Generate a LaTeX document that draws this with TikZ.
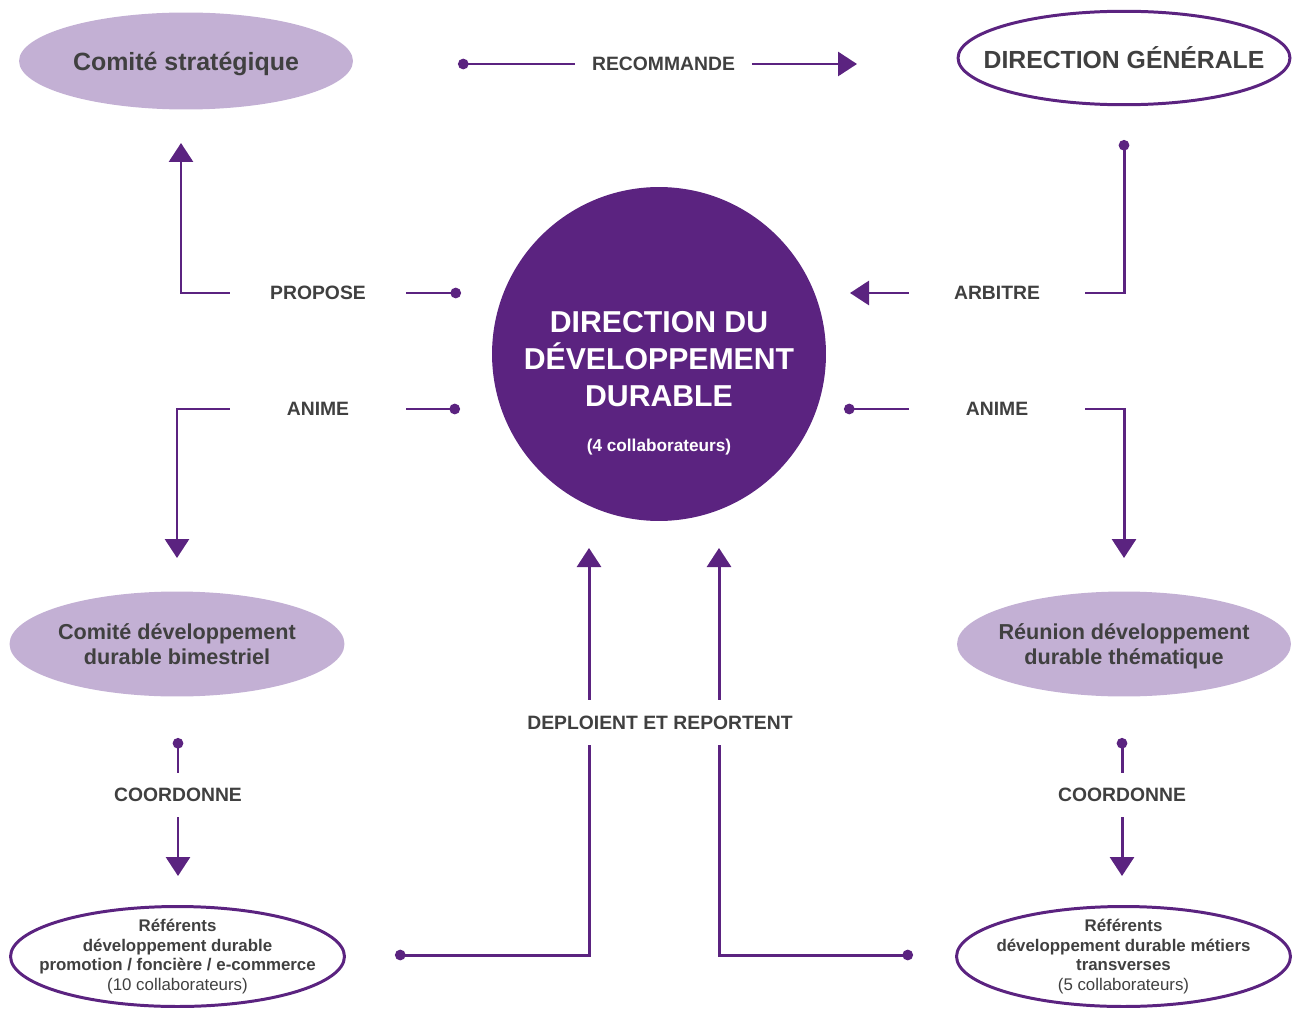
\documentclass[tikz,border=0pt]{standalone}
\usepackage{fontspec}
\setmainfont{Liberation Sans}
\usetikzlibrary{shapes.geometric}
\usetikzlibrary{arrows.meta}
\definecolor{ddpurple}{RGB}{91,35,128}
\definecolor{ddlilac}{RGB}{195,176,212}
\definecolor{ddgray}{RGB}{64,64,64}

\begin{document}
\begin{tikzpicture}[
    x=0.02cm, y=-0.02cm,
    filled/.style={ellipse,fill=ddlilac,text=ddgray,align=center,inner sep=-3cm,text depth=0pt,
        font=\fontsize{12.3}{14.7}\selectfont\bfseries},
    outlined/.style={ellipse,draw=ddpurple,line width=1.7pt,text=ddgray,align=center,inner sep=-3cm,
        font=\fontsize{9.6}{11.3}\selectfont\bfseries},
    lbl/.style={text=ddgray,font=\fontsize{11}{13}\selectfont\bfseries,
        minimum width=3.52cm,minimum height=0.88cm,inner sep=0pt},
    link/.style={draw=ddpurple,line width=1.7pt,{Circle[length=6pt]}-},
    arrow/.style={draw=ddpurple,line width=1.7pt,-{Triangle[length=0.38cm,width=0.48cm]}}
]
\useasboundingbox (0,0) rectangle (1294,1010);

% les instances
\node[filled,minimum width=6.68cm,minimum height=1.94cm,font=\fontsize{14.2}{17}\selectfont\bfseries]
    (strat) at (186,61) {Comité stratégique};
\node[outlined,minimum width=6.64cm,minimum height=1.87cm,font=\fontsize{14.1}{17}\selectfont\bfseries]
    (dg) at (1124,58) {DIRECTION GÉNÉRALE};

\node[circle,fill=ddpurple,minimum size=6.68cm] (ddd) at (659,354) {};
\node[text=white,align=center,font=\fontsize{17.2}{21}\selectfont\bfseries]
    (dddname) at (659,359) {DIRECTION DU\\DÉVELOPPEMENT\\DURABLE};
\node[text=white,font=\fontsize{9.8}{12}\selectfont\bfseries]
    (dddsub) at (659,447) {(4 collaborateurs)};

\node[filled,minimum width=6.7cm,minimum height=2.1cm] (cdd) at (177,644)
    {Comité développement\\durable bimestriel};
\node[filled,minimum width=6.68cm,minimum height=2.1cm] (rdd) at (1124,644)
    {Réunion développement\\durable thématique};

\node[outlined,minimum width=6.68cm,minimum height=2.0cm] (refl) at (177.5,956.5)
    {Référents\\développement durable\\promotion / foncière / e-commerce\\\mdseries(10 collaborateurs)};
\node[outlined,minimum width=6.68cm,minimum height=2.0cm] (refr) at (1123.5,956.5)
    {Référents\\développement durable métiers\\transverses\\\mdseries(5 collaborateurs)};

% libellés des liens
\node[lbl] (recL) at (663.5,64) {RECOMMANDE};
\node[lbl] (proL) at (318,293) {PROPOSE};
\node[lbl] (arbL) at (997,293) {ARBITRE};
\node[lbl] (animL) at (318,409) {ANIME};
\node[lbl] (animR) at (997,409) {ANIME};
\node[lbl] (coL) at (178,795) {COORDONNE};
\node[lbl] (coR) at (1122,795) {COORDONNE};
\node[lbl,minimum height=0.9cm] (depL) at (660,722.5) {DEPLOIENT ET REPORTENT};

% extrémités libres
\coordinate (recS) at (458,64);
\coordinate (recE) at (857,64);
\coordinate (proS) at (461,293);
\coordinate (proE) at (181,143);
\coordinate (arbS) at (1124,140);
\coordinate (arbE) at (850,293);
\coordinate (animLS) at (460,409);
\coordinate (animLE) at (177,558);
\coordinate (animRS) at (844,409);
\coordinate (animRE) at (1124,558);
\coordinate (coLS) at (178,738);
\coordinate (coLE) at (178,876);
\coordinate (coRS) at (1122,738);
\coordinate (coRE) at (1122,876);
\coordinate (depLS) at (395,955);
\coordinate (depLE) at (589,548);
\coordinate (depRS) at (913,955);
\coordinate (depRE) at (719,548);

% liens
\draw[link] (recS) -- (recL);
\draw[arrow] (recL) -- (recE);

\draw[link] (proS) -- (proL);
\draw[arrow] (proL) -| (proE);

\draw[link] (arbS) |- (arbL);
\draw[arrow] (arbL) -- (arbE);

\draw[link] (animLS) -- (animL);
\draw[arrow] (animL) -| (animLE);
\draw[link] (animRS) -- (animR);
\draw[arrow] (animR) -| (animRE);

\draw[link] (coLS) -- (coL);
\draw[arrow] (coL) -- (coLE);
\draw[link] (coRS) -- (coR);
\draw[arrow] (coR) -- (coRE);

\draw[link] (depLS) -| (depL.south -| depLE);
\draw[arrow] (depL.north -| depLE) -- (depLE);
\draw[link] (depRS) -| (depL.south -| depRE);
\draw[arrow] (depL.north -| depRE) -- (depRE);

\end{tikzpicture}
\end{document}
